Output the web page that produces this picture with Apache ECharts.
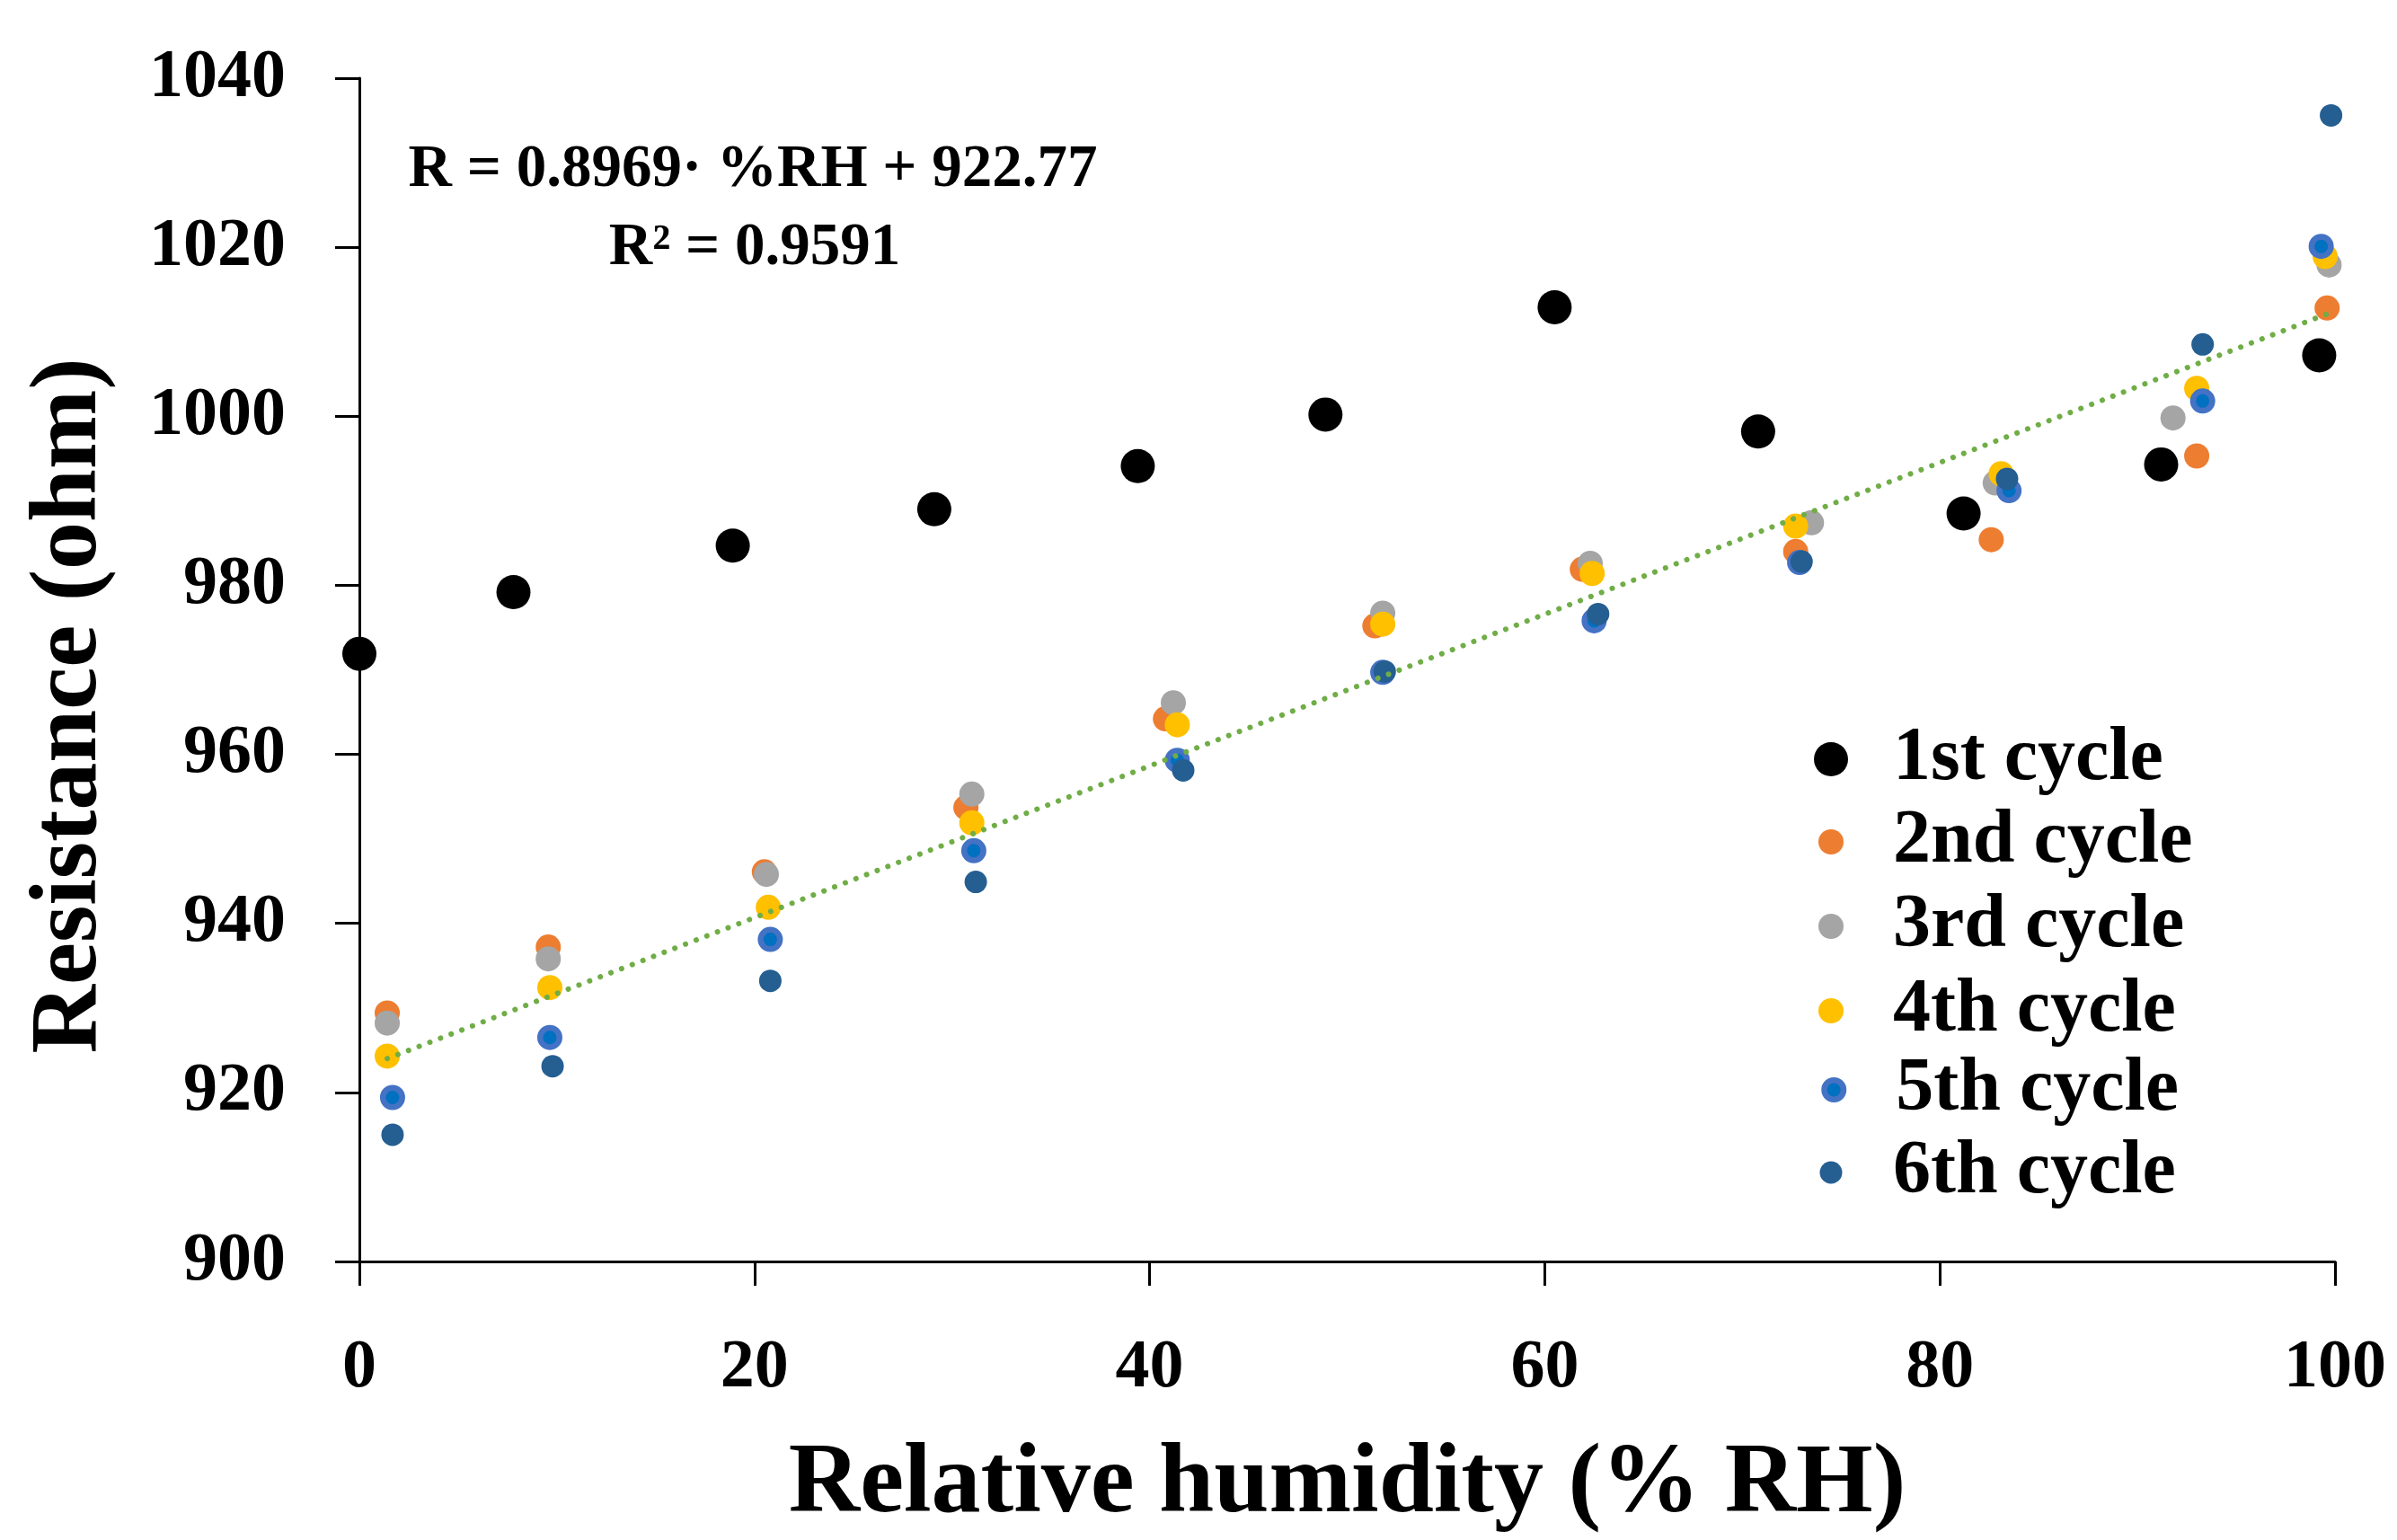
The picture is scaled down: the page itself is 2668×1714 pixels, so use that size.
<!DOCTYPE html>
<html>
<head>
<meta charset="utf-8">
<script src="https://cdn.jsdelivr.net/npm/echarts@6/dist/echarts.min.js"></script>
<style>
html,body{margin:0;padding:0;background:#fff;}
#chart{width:2668px;height:1714px;}
</style>
</head>
<body>
<div id="chart"></div>
<script>
// ---- data ----
var seriesNames = ['1st cycle', '2nd cycle', '3rd cycle', '4th cycle', '5th cycle', '6th cycle'];
var x1 = [0, 7.8, 18.9, 29.1, 39.4, 48.9, 60.5, 70.8, 81.2, 91.2, 99.2];
var y1 = [971.9, 979.2, 984.7, 989.0, 994.1, 1000.2, 1012.9, 998.2, 988.5, 994.3, 1007.2];
var x2 = [1.41, 9.56, 20.5, 30.7, 40.8, 51.4, 61.9, 72.7, 82.6, 93.0, 99.6];
var y2 = [929.4, 937.2, 946.1, 953.7, 964.2, 975.2, 981.9, 984.0, 985.4, 995.3, 1012.8];
var x3 = [1.41, 9.56, 20.6, 31.0, 41.2, 51.8, 62.3, 73.5, 82.8, 91.8, 99.7];
var y3 = [928.2, 935.8, 945.8, 955.3, 966.1, 976.7, 982.6, 987.4, 992.1, 999.8, 1017.9];
var x4 = [1.41, 9.64, 20.7, 31.0, 41.4, 51.8, 62.4, 72.7, 83.1, 93.0, 99.5];
var y4 = [924.3, 932.4, 941.9, 951.9, 963.5, 975.4, 981.4, 987.0, 993.2, 1003.3, 1018.9];
var x5 = [1.68, 9.64, 20.8, 31.1, 41.4, 51.8, 62.5, 72.9, 83.5, 93.3, 99.3];
var y5 = [919.4, 926.5, 938.1, 948.6, 959.3, 969.7, 975.8, 982.7, 991.2, 1001.8, 1020.1];
var x6 = [1.68, 9.78, 20.8, 31.2, 41.7, 51.9, 62.7, 73.0, 83.4, 93.3, 99.8];
var y6 = [915.0, 923.1, 933.2, 944.9, 958.1, 969.8, 976.6, 982.8, 992.6, 1008.5, 1035.6];
// trendline end points (as drawn in the reference)
var trendX = [1.41, 99.7];
var trendY = [924.0, 1012.2];
var xTicks = [0, 20, 40, 60, 80, 100];
var yTicks = [900, 920, 940, 960, 980, 1000, 1020, 1040];
var equationText = 'R = 0.8969\u00B7 %RH + 922.77';
var r2Text = 'R\u00B2 = 0.9591';

function pairs(xs, ys) { return xs.map(function (x, i) { return [x, ys[i]]; }); }

var FONT = '"Liberation Serif", "Times New Roman", serif';
var colors = ['#000000', '#ED7D31', '#A5A5A5', '#FFC000', '#0070C0', '#255E91'];
var sizes = [38, 28, 28, 28, 21.5, 25];
var xsAll = [x1, x2, x3, x4, x5, x6];
var ysAll = [y1, y2, y3, y4, y5, y6];

function styleFor(k) {
  var st = { color: colors[k], opacity: 1 };
  if (k === 4) { st.borderColor = '#4472C4'; st.borderWidth = 6.5; }
  return st;
}

var series = seriesNames.map(function (n, k) {
  return {
    name: n, type: 'scatter', symbol: 'circle', symbolSize: sizes[k],
    itemStyle: styleFor(k), data: pairs(xsAll[k], ysAll[k]), z: 2
  };
});
series.push({
  name: 'trend', type: 'line', data: pairs(trendX, trendY), symbol: 'none',
  lineStyle: { color: '#70AD47', width: 6, type: [0.1, 12.6], cap: 'round' }, z: 5, silent: true
});

var LEG_TEXT = { fontFamily: FONT, fontWeight: 'bold', fontSize: 84, color: '#000', lineHeight: 76 };
var MARK_X = 2038, TEXT_X = 2107;
function makeLegend(idxs, top, h, gap) {
  return {
    data: idxs.map(function (k) { return { name: seriesNames[k], icon: 'circle', itemStyle: styleFor(k) }; }),
    orient: 'vertical', left: MARK_X - 5 - h / 2, top: top,
    itemWidth: h, itemHeight: h, itemGap: gap, symbolKeepAspect: true,
    textStyle: Object.assign({ padding: [0, 0, 0, TEXT_X - (MARK_X + h / 2 + 5)] }, LEG_TEXT)
  };
}

var chart = echarts.init(document.getElementById('chart'));
chart.setOption({
  animation: false,
  backgroundColor: '#ffffff',
  grid: { left: 400, right: 69, top: 87, bottom: 300, containLabel: false },
  xAxis: {
    type: 'value', min: xTicks[0], max: xTicks[xTicks.length - 1], interval: 20,
    name: 'Relative humidity (% RH)', nameLocation: 'middle', nameGap: 195,
    nameTextStyle: { fontFamily: FONT, fontWeight: 'bold', fontSize: 110, color: '#000' },
    axisLine: { lineStyle: { color: '#000', width: 3 } },
    axisTick: { show: true, inside: false, length: 27, lineStyle: { color: '#000', width: 3 } },
    axisLabel: { fontFamily: FONT, fontWeight: 'bold', fontSize: 76, color: '#000', margin: 81,
      formatter: function (v) { return String(v); } },
    splitLine: { show: false }
  },
  yAxis: {
    type: 'value', min: yTicks[0], max: yTicks[yTicks.length - 1], interval: 20,
    name: 'Resistance (ohm)', nameLocation: 'middle', nameGap: 268, nameRotate: 90,
    nameTextStyle: { fontFamily: FONT, fontWeight: 'bold', fontSize: 106, color: '#000', padding: [0, 80, 0, 0] },
    axisLine: { show: true, lineStyle: { color: '#000', width: 3 } },
    axisTick: { show: true, inside: false, length: 27, lineStyle: { color: '#000', width: 3 } },
    axisLabel: { fontFamily: FONT, fontWeight: 'bold', fontSize: 76, color: '#000', margin: 82,
      formatter: function (v) { return String(v); } },
    splitLine: { show: false }
  },
  legend: [
    makeLegend([0], 798, 38, 16),
    makeLegend([1, 2, 3], 890, 28, 10),
    makeLegend([4], 1166, 21.5, 16),
    makeLegend([5], 1258, 25, 16)
  ],
  graphic: [{
    type: 'text', x: 838, y: 190, z: 10,
    style: { text: equationText, textAlign: 'center', textVerticalAlign: 'middle',
      font: 'bold 67px ' + FONT, fill: '#000' }
  }, {
    type: 'text', x: 840, y: 277, z: 10,
    style: { text: r2Text, textAlign: 'center', textVerticalAlign: 'middle',
      font: 'bold 67px ' + FONT, fill: '#000' }
  }],
  series: series
});
</script>
</body>
</html>
